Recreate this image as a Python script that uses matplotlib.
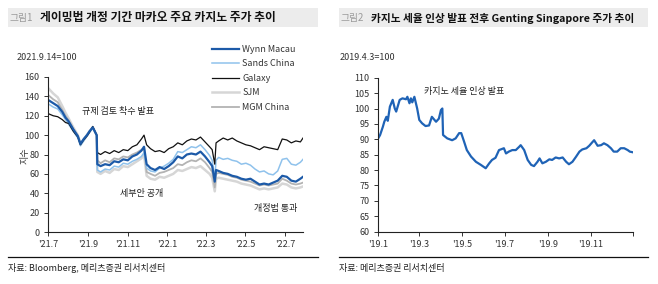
import matplotlib
matplotlib.use("Agg")
import matplotlib.pyplot as plt
from matplotlib.patches import Rectangle
from matplotlib.lines import Line2D
import pandas as pd

plt.rcParams['font.family'] = ['Noto Sans CJK KR', 'DejaVu Sans']

W, H = 658, 284

# ---- left chart data (2021.9.14=100)
dates_macau = [
    "2021-07-02", "2021-07-09", "2021-07-16", "2021-07-23", "2021-07-28", "2021-08-02",
    "2021-08-09", "2021-08-16", "2021-08-20", "2021-08-25", "2021-08-30", "2021-09-03",
    "2021-09-08", "2021-09-14", "2021-09-15", "2021-09-20", "2021-09-27", "2021-10-04",
    "2021-10-11", "2021-10-18", "2021-10-25", "2021-11-01", "2021-11-08", "2021-11-15",
    "2021-11-22", "2021-11-26", "2021-11-30", "2021-12-06", "2021-12-13", "2021-12-20",
    "2021-12-27", "2022-01-03", "2022-01-10", "2022-01-17", "2022-01-24", "2022-01-31",
    "2022-02-07", "2022-02-14", "2022-02-21", "2022-02-28", "2022-03-07", "2022-03-11",
    "2022-03-15", "2022-03-17", "2022-03-21", "2022-03-28", "2022-04-04", "2022-04-11",
    "2022-04-18", "2022-04-25", "2022-05-02", "2022-05-09", "2022-05-16", "2022-05-23",
    "2022-05-30", "2022-06-06", "2022-06-13", "2022-06-20", "2022-06-27", "2022-07-04",
    "2022-07-11", "2022-07-18", "2022-07-25", "2022-07-29",
]
wynn = [136, 133, 130, 124, 118, 114, 106, 99, 91, 96, 100, 104,
        108, 100, 70, 68, 70, 69, 73, 72, 75, 74, 78, 80,
        84, 88, 70, 66, 64, 67, 65, 68, 72, 78, 76, 80,
        81, 80, 83, 78, 72, 68, 52, 64, 63, 61, 60, 58,
        57, 55, 54, 55, 52, 49, 50, 49, 51, 53, 58, 57,
        53, 52, 55, 57]
sands = [132, 129, 127, 121, 116, 111, 104, 97, 89, 94, 99, 103,
         107, 100, 64, 62, 65, 64, 68, 67, 71, 70, 73, 75,
         78, 82, 66, 63, 62, 66, 68, 71, 75, 83, 82, 85,
         88, 87, 90, 85, 79, 74, 55, 74, 77, 75, 76, 74,
         73, 70, 71, 69, 65, 62, 63, 60, 59, 63, 75, 76,
         70, 69, 72, 75]
galaxy = [122, 120, 119, 116, 113, 112, 104, 98, 90, 95, 99, 103,
          109, 100, 82, 80, 83, 81, 84, 82, 85, 84, 88, 90,
          96, 100, 90, 86, 83, 84, 82, 86, 88, 92, 90, 94,
          96, 95, 98, 93, 88, 85, 70, 92, 94, 97, 95, 97,
          94, 92, 90, 89, 87, 85, 88, 87, 86, 85, 96, 95,
          92, 94, 93, 97]
sjm = [148, 143, 139, 130, 123, 117, 108, 100, 91, 95, 100, 104,
       108, 100, 62, 60, 63, 61, 65, 64, 68, 67, 70, 73,
       76, 80, 58, 55, 54, 57, 56, 58, 60, 64, 63, 65,
       67, 66, 68, 64, 60, 56, 42, 55, 56, 55, 54, 53,
       52, 50, 49, 48, 46, 44, 45, 44, 45, 46, 50, 49,
       46, 45, 46, 47]
mgm = [141, 137, 134, 126, 120, 115, 106, 99, 90, 95, 99, 103,
       108, 100, 74, 71, 74, 72, 76, 75, 78, 77, 80, 82,
       85, 86, 62, 60, 58, 61, 62, 64, 66, 70, 69, 72,
       74, 73, 76, 72, 66, 62, 46, 60, 61, 60, 59, 57,
       56, 54, 53, 52, 50, 48, 49, 48, 49, 50, 55, 53,
       50, 49, 50, 51]
macau_ticks = ["2021-07-01", "2021-09-01", "2021-11-01", "2022-01-01",
               "2022-03-01", "2022-05-01", "2022-07-01"]
macau_ticklabels = ["'21.7", "'21.9", "'21.11", "'22.1", "'22.3", "'22.5", "'22.7"]

# ---- right chart data (2019.4.3=100)
dates_genting = [
    "2019-01-02", "2019-01-04", "2019-01-08", "2019-01-10", "2019-01-13", "2019-01-15",
    "2019-01-18", "2019-01-20", "2019-01-22", "2019-01-25", "2019-01-27", "2019-02-01",
    "2019-02-05", "2019-02-10", "2019-02-12", "2019-02-15", "2019-02-17", "2019-02-19",
    "2019-02-22", "2019-02-26", "2019-03-01", "2019-03-05", "2019-03-10", "2019-03-15",
    "2019-03-19", "2019-03-25", "2019-03-29", "2019-04-01", "2019-04-03", "2019-04-04",
    "2019-04-10", "2019-04-17", "2019-04-22", "2019-04-27", "2019-04-30", "2019-05-04",
    "2019-05-08", "2019-05-14", "2019-05-21", "2019-05-28", "2019-06-04", "2019-06-09",
    "2019-06-13", "2019-06-18", "2019-06-23", "2019-06-30", "2019-07-03", "2019-07-07",
    "2019-07-12", "2019-07-17", "2019-07-22", "2019-07-24", "2019-07-29", "2019-08-03",
    "2019-08-08", "2019-08-12", "2019-08-17", "2019-08-20", "2019-08-24", "2019-08-29",
    "2019-09-03", "2019-09-07", "2019-09-12", "2019-09-17", "2019-09-22", "2019-09-27",
    "2019-10-01", "2019-10-06", "2019-10-11", "2019-10-16", "2019-10-20", "2019-10-26",
    "2019-10-30", "2019-11-04", "2019-11-06", "2019-11-11", "2019-11-16", "2019-11-20",
    "2019-11-25", "2019-11-30", "2019-12-04", "2019-12-09", "2019-12-14", "2019-12-19",
    "2019-12-24", "2019-12-27", "2019-12-31",
]
genting = [90.6, 91.4, 94.1, 95.7, 97.3, 96.0, 100.6, 101.7, 102.8, 100.0, 99.0, 102.8,
           103.3, 103.0, 103.8, 101.7, 103.3, 102.0, 103.8, 100.0, 96.3, 95.2, 94.3, 94.5,
           97.3, 95.7, 96.7, 99.5, 100.0, 91.4, 90.3, 89.7, 90.3, 92.0, 92.0, 89.3,
           86.5, 84.4, 82.7, 81.7, 80.6, 82.2, 83.3, 84.0, 86.5, 87.1, 85.4, 86.0,
           86.5, 86.5, 87.6, 88.1, 86.5, 83.3, 81.7, 81.3, 82.7, 83.8, 82.2, 82.7,
           83.5, 83.3, 84.1, 83.8, 84.1, 82.7, 81.9, 82.7, 84.3, 86.0, 86.7, 87.1,
           87.9, 89.2, 89.7, 87.9, 88.1, 88.7, 88.1, 87.1, 86.0, 86.0, 87.1, 87.1,
           86.5, 86.0, 85.8]
genting_ticks = ["2019-01-01", "2019-03-01", "2019-05-01", "2019-07-01",
                 "2019-09-01", "2019-11-01", "2020-01-01"]
genting_ticklabels = ["'19.1", "'19.3", "'19.5", "'19.7", "'19.9", "'19.11", ""]


def fx(x):
    return x / W


def fy(y):
    return 1 - y / H


def axes_rect(x0, x1, ytop, ybot):
    return [fx(x0), fy(ybot), fx(x1) - fx(x0), fy(ytop) - fy(ybot)]


def style_axes(ax):
    for s in ["top", "right"]:
        ax.spines[s].set_visible(False)
    for s in ["left", "bottom"]:
        ax.spines[s].set_linewidth(0.8)
        ax.spines[s].set_color("#222222")
    ax.tick_params(axis="both", labelsize=6.5, colors="#333333", length=3, width=0.7, pad=3)


fig = plt.figure(figsize=(W / 100, H / 100), dpi=100)
fig.patch.set_facecolor("white")

# title bars
for x0, x1, num, title, tsize in [
        (8, 318, "그림1", "게이밍법 개정 기간 마카오 주요 카지노 주가 추이", 8.5),
        (339, 648, "그림2", "카지노 세율 인상 발표 전후 Genting Singapore 주가 추이", 7.7)]:
    fig.add_artist(Rectangle((fx(x0), fy(27)), fx(x1) - fx(x0), fy(8) - fy(27),
                             transform=fig.transFigure, facecolor="#ececec", edgecolor="none"))
    fig.text(fx(x0 + 2), fy(18), num, fontsize=7, color="#9a9a9a", va="center", ha="left")
    fig.text(fx(x0 + 32), fy(18), title, fontsize=tsize, fontweight="bold", color="#111111",
             va="center", ha="left")
    # bottom rule
    fig.add_artist(Line2D([fx(x0), fx(x1)], [fy(257), fy(257)], transform=fig.transFigure,
                          color="#111111", lw=0.9))

fig.text(fx(8), fy(268), "자료: Bloomberg, 메리츠증권 리서치센터", fontsize=6.5, color="#222222",
         va="center", ha="left")
fig.text(fx(339), fy(268), "자료: 메리츠증권 리서치센터", fontsize=6.5, color="#222222",
         va="center", ha="left")

# ---- left chart
ax1 = fig.add_axes(axes_rect(48, 303, 77, 232))
d1 = pd.to_datetime(dates_macau)
ax1.plot(d1, sjm, color="#d6d6d6", lw=1.8, label="SJM")
ax1.plot(d1, mgm, color="#b3b3b3", lw=1.3, label="MGM China")
ax1.plot(d1, sands, color="#8fc2ec", lw=1.1, label="Sands China")
ax1.plot(d1, galaxy, color="#111111", lw=0.9, label="Galaxy")
ax1.plot(d1, wynn, color="#1c5aa8", lw=1.6, label="Wynn Macau")
ax1.set_ylim(0, 160)
ax1.set_yticks(range(0, 161, 20))
ax1.set_xlim(pd.Timestamp("2021-07-01"), pd.Timestamp("2022-07-29"))
ax1.set_xticks(pd.to_datetime(macau_ticks))
ax1.set_xticklabels(macau_ticklabels)
style_axes(ax1)
h, l = ax1.get_legend_handles_labels()
order = [4, 2, 3, 0, 1]
ax1.legend([h[i] for i in order], [l[i] for i in order], loc="upper left",
           bbox_to_anchor=(fx(212), fy(45)), bbox_transform=fig.transFigure,
           frameon=False, fontsize=6.5, handlelength=3.0, handletextpad=0.35,
           labelspacing=0.6, borderpad=0, borderaxespad=0, labelcolor="#333333")
ax1.text(pd.Timestamp("2021-08-22"), 124, "규제 검토 착수 발표", fontsize=6.5, color="#222222",
         ha="left", va="center")
ax1.text(pd.Timestamp("2021-10-20"), 40, "세부안 공개", fontsize=6.5, color="#222222",
         ha="left", va="center")
ax1.text(pd.Timestamp("2022-05-14"), 24, "개정법 통과", fontsize=6.5, color="#222222",
         ha="left", va="center")
fig.text(fx(17), fy(58), "2021.9.14=100", fontsize=6.5, color="#333333", va="center", ha="left")
fig.text(fx(25), fy(156), "지수", fontsize=6.5, color="#333333", va="center", ha="center",
         rotation=90)

# ---- right chart
ax2 = fig.add_axes(axes_rect(378, 633.3, 77.7, 231.7))
d2 = pd.to_datetime(dates_genting)
ax2.plot(d2, genting, color="#1f63b6", lw=1.6)
ax2.set_ylim(60, 110)
ax2.set_yticks(range(60, 111, 5))
ax2.set_xlim(pd.Timestamp("2019-01-01"), pd.Timestamp("2020-01-01"))
ax2.set_xticks(pd.to_datetime(genting_ticks))
ax2.set_xticklabels(genting_ticklabels)
style_axes(ax2)
ax2.text(pd.Timestamp("2019-03-08"), 105.4, "카지노 세율 인상 발표", fontsize=6.5, color="#222222",
         ha="left", va="center")
fig.text(fx(340), fy(57), "2019.4.3=100", fontsize=6.5, color="#333333", va="center", ha="left")

fig.savefig("out.png", dpi=100)
